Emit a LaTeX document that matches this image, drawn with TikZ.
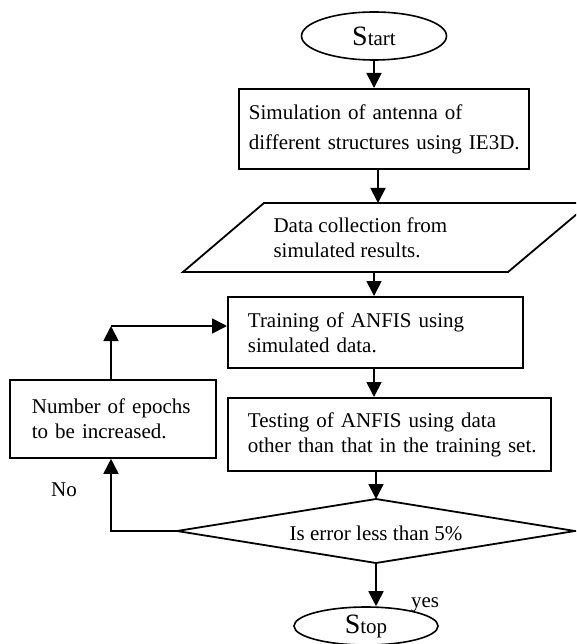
\documentclass[tikz,border=0pt]{standalone}
\usepackage{fontspec}
\setmainfont{Liberation Serif}
\usetikzlibrary{arrows.meta,shapes.geometric}
\newcommand{\initialcap}[1]{{\fontsize{28}{28}\selectfont #1}}
% two unbreakable lines, set flush left
\newcommand{\boxlines}[2]{\mbox{#1}\\\mbox{#2}}
\begin{document}
\begin{tikzpicture}[x=1pt,y=-1pt,
  every node/.style={font=\fontsize{21}{25}\selectfont},
  line/.style={line width=1.8pt},
  flow/.style={line width=1.8pt,-{Triangle[length=15pt,width=15pt]}},
  box/.style={draw,line width=1.8pt,align=left,anchor=north west,inner ysep=0pt},
  term/.style={draw,ellipse,line width=1.6pt,inner sep=0pt},
  lbl/.style={anchor=base,inner sep=0pt}]
\clip (0,0) rectangle (576,644);

% terminals
\node[term,minimum width=145,minimum height=48] (start) at (374,36) {\initialcap{S}tart};
\node[term,minimum width=144,minimum height=38] (stop) at (366,626) {\initialcap{S}top};

% process boxes
\node[box,text width=270,inner xsep=10,minimum height=80,
      font=\fontsize{21}{30}\selectfont] (sim) at (238,88)
  {\boxlines{Simulation of antenna of}{different structures using IE3D.}};
\node[box,text width=255,inner xsep=20,minimum height=71] (train) at (227,296)
  {\boxlines{Training of ANFIS using}{simulated data.}};
\node[box,text width=283,inner xsep=20,minimum height=73] (test) at (227,397)
  {\boxlines{Testing of ANFIS using data}{other than that in the training set.}};
\node[box,text width=162,inner xsep=22,minimum height=78] (epoch) at (9,379)
  {\boxlines{Number of epochs}{to be increased.}};

% input/output parallelogram
\coordinate (pTL) at (264,203);
\coordinate (pTR) at (590,203);
\coordinate (pBR) at (508,272);
\coordinate (pBL) at (183,272);
\draw[line] (pTL) -- (pTR) -- (pBR) -- (pBL) -- cycle;
\node[anchor=west,align=left] (data) at (270,238)
  {Data collection from\\simulated results.};
\coordinate (dataTop) at (378,203);
\coordinate (dataBot) at (374,272);

% decision
\coordinate (dN) at (376,499);
\coordinate (dE) at (575,531);
\coordinate (dS) at (376,563);
\coordinate (dW) at (177,531);
\draw[line] (dN) -- (dE) -- (dS) -- (dW) -- cycle;
\node (query) at (376,533) {Is error less than 5\%};

% connectors
\draw[flow] (start.south) -- (start.south |- sim.north);
\draw[flow] (dataTop |- sim.south) -- (dataTop);
\draw[flow] (dataBot) -- (dataBot |- train.north);
\draw[flow] (dataBot |- train.south) -- (dataBot |- test.north);
\draw[flow] (dN |- test.south) -- (dN);
\draw[flow] (dS) -- (dS |- stop.north);

\coordinate (turn) at (111,326);
\draw[flow] (dW) -| (turn |- epoch.south);
\draw[flow] (turn |- epoch.north) -- (turn);
\draw[flow] (turn) -- (turn -| train.west);

% branch labels
\node[lbl] (no) at (64,496) {No};
\node[lbl] (yes) at (425,607) {yes};
\end{tikzpicture}
\end{document}
